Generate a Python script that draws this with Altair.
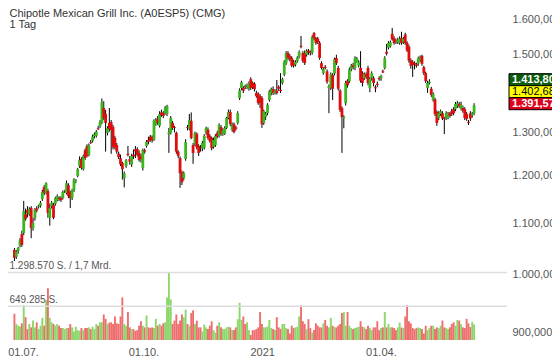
import altair as alt
import pandas as pd

title_text = "Chipotle Mexican Grill Inc. (A0ESP5) (CMG)"
interval_text = "1 Tag"

opens = [1047,1034,1045,1055,1078,1080,1118,1127,1118,1131,
         1090,1110,1130,1134,1136,1150,1176,1163,1167,1111,
         1135,1138,1140,1148,1153,1152,1152,1167,1163,1180,
         1165,1152,1169,1189,1200,1222,1238,1215,1258,1268,
         1247,1277,1280,1291,1292,1310,1315,1323,1360,1345,
         1299,1323,1325,1313,1287,1270,1250,1240,1229,1195,1222,1250,
         1238,1226,1248,1260,1261,1252,1245,1218,1258,1268,
         1282,1290,1290,1283,1320,1333,1316,1349,1347,1347,
         1345,1296,1299,1323,1313,1299,1255,1240,1208,1195,
         1238,1313,1309,1328,1270,1273,1297,1268,1265,1262,
         1264,1299,1307,1292,1287,1266,1270,1299,1292,1313,
         1296,1297,1311,1335,1350,1306,1320,1312,1323,1385,1411,
         1411,1416,1412,1409,1434,1424,1422,1398,1396,1390,
         1385,1323,1338,1347,1380,1398,1408,1398,1404,1414,
         1406,1424,1446,1477,1505,1496,1491,1481,1473,1482,
         1495,1525,1505,1505,1500,1512,1508,1505,1561,1547,
         1545,1533,1477,1450,1467,1455,1411,1411,1445,1449,
         1491,1464,1404,1360,1334,1372,1430,1428,1462,1472,1464,1482,
         1470,1464,1450,1437,1447,1464,1411,1437,1437,1413,
         1422,1437,1436,1455,1464,1508,1520,1524,1559,1547,
         1540,1535,1533,1547,1535,1557,1533,1522,1485,1480,
         1478,1474,1476,1485,1497,1466,1450,1411,1424,1409,
         1380,1382,1350,1335,1345,1347,1336,1334,1337,1347,
         1352,1357,1357,1365,1370,1358,1360,1357,1345,1326,1347,1342,1347]

highs = [1051,1047,1053,1070,1085,1146,1130,1135,1133,1135,
         1111,1131,1135,1138,1146,1170,1180,1186,1172,1140,
         1146,1142,1155,1160,1156,1156,1168,1170,1190,1184,
         1168,1172,1195,1193,1218,1244,1242,1248,1262,1272,
         1274,1282,1295,1300,1306,1316,1330,1384,1377,1355,
         1315,1360,1330,1318,1292,1275,1255,1248,1232,1210,1238,1268,
         1245,1250,1260,1268,1265,1258,1250,1262,1262,1282,
         1290,1294,1293,1332,1335,1340,1352,1356,1352,1365,
         1368,1311,1340,1328,1316,1302,1258,1244,1212,1210,
         1284,1318,1345,1349,1275,1302,1300,1272,1270,1280,
         1296,1314,1312,1296,1290,1288,1296,1304,1322,1318,
         1310,1315,1338,1356,1356,1324,1324,1316,1352,1410,1430,
         1416,1420,1422,1428,1439,1428,1426,1404,1400,1395,
         1390,1356,1350,1372,1406,1412,1415,1408,1432,1418,
         1450,1438,1485,1510,1510,1502,1496,1486,1485,1496,
         1512,1553,1510,1512,1515,1516,1512,1555,1564,1550,
         1550,1538,1482,1466,1472,1460,1420,1452,1450,1492,
         1500,1470,1408,1364,1342,1430,1434,1465,1475,1478,1496,1494,
         1485,1510,1455,1452,1452,1470,1440,1455,1442,1418,
         1428,1442,1446,1460,1496,1530,1538,1540,1576,1552,
         1545,1548,1552,1565,1550,1562,1538,1528,1490,1485,
         1482,1478,1495,1498,1500,1470,1454,1430,1434,1414,
         1400,1386,1354,1352,1356,1352,1338,1352,1350,1350,
         1358,1362,1375,1378,1375,1376,1366,1362,1350,1330,1352,1350,1372]

lows = [1026,1030,1040,1052,1053,1076,1105,1112,1115,1070,
        1085,1105,1122,1130,1132,1146,1158,1160,1111,1095,
        1130,1108,1136,1145,1146,1144,1149,1163,1160,1152,
        1131,1148,1165,1184,1197,1218,1214,1212,1236,1242,
        1244,1273,1276,1286,1288,1306,1311,1320,1330,1255,
        1293,1302,1250,1260,1260,1250,1238,1222,1192,1175,1218,1244,
        1225,1220,1238,1240,1244,1232,1230,1212,1250,1264,
        1272,1278,1276,1280,1316,1318,1312,1338,1335,1343,
        1340,1252,1295,1306,1300,1250,1240,1174,1180,1190,
        1234,1305,1305,1284,1227,1268,1260,1245,1255,1256,
        1260,1295,1283,1276,1258,1262,1266,1286,1288,1292,
        1292,1294,1308,1332,1315,1302,1298,1305,1319,1380,1405,
        1398,1408,1408,1404,1406,1408,1402,1386,1368,1360,
        1311,1318,1330,1342,1376,1392,1393,1394,1394,1404,
        1398,1420,1442,1472,1485,1482,1466,1465,1468,1478,
        1490,1518,1478,1472,1495,1500,1498,1500,1540,1528,
        1530,1486,1460,1446,1460,1422,1347,1406,1380,1444,
        1472,1404,1350,1252,1310,1366,1412,1424,1455,1460,1458,1478,
        1465,1425,1415,1432,1435,1418,1400,1430,1415,1400,
        1414,1430,1430,1450,1460,1498,1515,1520,1540,1528,
        1530,1530,1528,1528,1530,1528,1508,1478,1462,1440,
        1460,1465,1470,1480,1470,1445,1424,1398,1420,1388,
        1376,1340,1316,1330,1340,1330,1296,1330,1332,1336,
        1340,1342,1352,1360,1360,1354,1348,1330,1328,1318,1328,1336,1342]

closes = [1032,1044,1051,1066,1057,1125,1109,1120,1129,1090,
          1100,1128,1126,1136,1142,1165,1163,1184,1121,1131,
          1142,1111,1152,1156,1150,1148,1165,1169,1184,1157,
          1152,1169,1192,1191,1215,1236,1218,1245,1240,1245,
          1270,1275,1290,1296,1302,1308,1325,1374,1335,1323,
          1310,1308,1306,1265,1265,1255,1242,1226,1215,1206,1235,1247,
          1232,1245,1244,1256,1248,1236,1238,1259,1255,1278,
          1278,1282,1281,1328,1330,1323,1345,1342,1340,1360,
          1365,1300,1335,1311,1311,1255,1245,1206,1186,1206,
          1277,1311,1330,1287,1252,1299,1265,1252,1262,1275,
          1292,1311,1287,1280,1263,1282,1292,1290,1318,1296,
          1305,1311,1335,1350,1320,1320,1301,1309,1347,1405,1426,
          1404,1413,1418,1424,1411,1413,1408,1390,1372,1373,
          1320,1352,1345,1368,1402,1408,1398,1404,1398,1409,
          1403,1434,1481,1505,1491,1488,1470,1470,1480,1492,
          1508,1522,1483,1477,1510,1506,1505,1550,1545,1533,
          1535,1491,1464,1462,1464,1427,1416,1447,1409,1488,
          1477,1409,1355,1337,1338,1424,1418,1460,1470,1466,1491,1490,
          1480,1430,1424,1447,1440,1424,1434,1450,1424,1410,
          1419,1434,1442,1452,1491,1503,1533,1535,1543,1533,
          1537,1542,1545,1533,1545,1533,1512,1484,1470,1472,
          1474,1470,1490,1493,1475,1450,1429,1424,1428,1393,
          1396,1345,1323,1347,1352,1334,1333,1347,1345,1340,
          1345,1347,1370,1372,1364,1368,1353,1335,1333,1323,1334,1346,1367]

volume_thousands = [505,308,275,262,321,669,439,210,308,243,
                    374,243,341,210,275,426,275,767,997,426,
                    341,308,275,308,275,230,230,210,230,230,
                    308,243,164,256,190,177,230,190,230,230,
                    243,210,256,210,308,275,341,341,492,407,
                    308,335,341,308,453,321,308,453,820,308,
                    275,538,243,210,210,177,190,275,361,275,
                    243,472,243,230,243,230,407,275,308,275,
                    321,341,820,1300,780,308,374,492,308,374,
                    492,439,584,308,275,518,570,308,374,243,243,
                    164,295,243,210,275,361,190,144,275,341,
                    243,210,210,243,256,243,190,190,243,400,
                    715,387,453,308,341,190,98,190,190,210,
                    243,538,308,243,243,260,387,230,210,190,439,
                    243,216,308,308,230,210,125,275,230,243,
                    256,453,669,361,308,210,400,230,144,190,
                    321,275,243,243,321,387,275,243,426,275,250,
                    243,275,308,518,538,275,538,275,230,210,
                    230,243,256,361,256,243,210,275,230,190,
                    243,243,361,190,230,243,538,243,308,243,
                    243,230,190,243,335,240,230,453,669,361,321,
                    230,210,230,243,230,210,125,275,190,230,
                    275,275,210,243,230,275,374,243,230,210,
                    243,308,341,275,387,374,308,243,230,407,
                    320,250,350,300]

x_tick_index = [4.9, 69.6, 133.4, 197.2]
x_tick_labels = ["01.07.", "01.10.", "2021", "01.04."]
price_ticks = [900, 1000, 1100, 1200, 1300, 1500, 1600]
volume_levels = [1298570, 649285]
volume_level_labels = ["1.298.570 S. / 1,7 Mrd.", "649.285 S."]
quote_names = ["high", "last", "low"]
quote_values = [1413.80, 1402.68, 1391.57]

n = len(closes)
assert all(len(a) == n for a in (opens, highs, lows, volume_thousands))

df = pd.DataFrame({
    "idx": list(range(n)),
    "open": opens, "high": highs, "low": lows, "close": closes,
    "volume": [v * 1000 for v in volume_thousands],
})

W, H = 499, 332
FONT = "Liberation Sans"
UP, DOWN = "#3cb521", "#e00d0d"
VUP, VDOWN = "#8cd66a", "#ee6e6e"

xs = alt.Scale(domain=[-0.765, 262.0], nice=False, zero=False)
ps = alt.Scale(type="log", domain=[887.1, 1634.9], nice=False)
vs = alt.Scale(domain=[0, 6387000], nice=False)

de_num = "replace(replace(replace(format(datum.value, ',.3f'), ',', '#'), '.', ','), '#', '.')"

p_axis = alt.Axis(orient="right", values=price_ticks, labelExpr=de_num, domain=False, ticks=False,
                  tickSize=0, grid=False, labelPadding=5, labelFontSize=11, labelFont=FONT,
                  labelColor="#555", labelOverlap=False, labelFlush=False, title=None)

is_up = "datum.close >= datum.open"
base = alt.Chart(df)

vol = base.mark_bar(width=1.9).encode(
    x=alt.X("idx:Q", scale=xs, axis=None),
    y=alt.Y("volume:Q", scale=vs, axis=None),
    color=alt.condition(is_up, alt.value(VUP), alt.value(VDOWN)),
)

lv = pd.DataFrame({"v": volume_levels, "label": volume_level_labels})
grid = alt.Chart(lv).mark_rule(color="#dddddd", strokeWidth=1.5).encode(
    y=alt.Y("v:Q", scale=vs, axis=None), x=alt.value(0), x2=alt.value(W))
grid_text = alt.Chart(lv).mark_text(align="left", baseline="alphabetic", dy=-3, fontSize=10,
                                    font=FONT, color="#555").encode(
    y=alt.Y("v:Q", scale=vs, axis=None), x=alt.value(1.5), text="label:N")

wick = base.mark_rule(color="black", strokeWidth=1).encode(
    x=alt.X("idx:Q", scale=xs, axis=None),
    y=alt.Y("low:Q", scale=ps, axis=None), y2="high:Q")
body = base.mark_bar(width=2.8).encode(
    x=alt.X("idx:Q", scale=xs, axis=None),
    y=alt.Y("open:Q", scale=ps, axis=p_axis), y2="close:Q",
    color=alt.condition(is_up, alt.value(UP), alt.value(DOWN)))

xt = pd.DataFrame({"idx": x_tick_index, "label": x_tick_labels})
x_labels = alt.Chart(xt).mark_text(align="center", baseline="alphabetic", fontSize=11, font=FONT,
                                   color="#555").encode(
    x=alt.X("idx:Q", scale=xs, axis=None), y=alt.value(H + 15.5), text="label:N")

qdf = pd.DataFrame({"name": quote_names, "value": quote_values, "anchor": [quote_values[1]] * 3})
box_fill = ["#0b5d0b", "#ffff00", "#e0001b"]
box_text = ["white", "black", "white"]
box_weight = ["bold", "normal", "bold"]
box_off = [(-17.5, -5.5), (-5.5, 6.5), (6.5, 18.5)]
quote_layers = []
for nm, f, tc, wt, (a, b) in zip(quote_names, box_fill, box_text, box_weight, box_off):
    qc = alt.Chart(qdf).transform_filter(f"datum.name == '{nm}'")
    quote_layers.append(qc.mark_rect(fill=f, stroke="black", strokeWidth=1, yOffset=a, y2Offset=b).encode(
        x=alt.value(W + 2), x2=alt.value(W + 80),
        y=alt.Y("anchor:Q", scale=ps, axis=None), y2="anchor:Q"))
    quote_layers.append(qc.transform_calculate(label=de_num).mark_text(
        align="left", baseline="middle", dy=(a + b) / 2, fontSize=11, font=FONT,
        fontWeight=wt, color=tc).encode(
        x=alt.value(W + 5), y=alt.Y("anchor:Q", scale=ps, axis=None), text="label:N"))

tdf = pd.DataFrame({"t": [title_text], "s": [interval_text]})
title1 = alt.Chart(tdf).mark_text(align="left", baseline="alphabetic", fontSize=11, font=FONT,
                                   color="#333").encode(x=alt.value(1.5), y=alt.value(8.8), text="t:N")
title2 = alt.Chart(tdf).mark_text(align="left", baseline="alphabetic", fontSize=11, font=FONT,
                                   color="#333").encode(x=alt.value(1.5), y=alt.value(19.6), text="s:N")

chart = alt.layer(vol, grid, grid_text, wick, body, x_labels, *quote_layers, title1, title2).resolve_scale(
    y="independent"
).properties(
    width=W, height=H,
    autosize=alt.AutoSizeParams(type="none"),
    padding={"left": 0, "top": 0, "right": 45, "bottom": 19},
    background="white",
).configure_view(stroke=None)

chart.save("out.html", embed_options={"renderer": "svg", "actions": False})
